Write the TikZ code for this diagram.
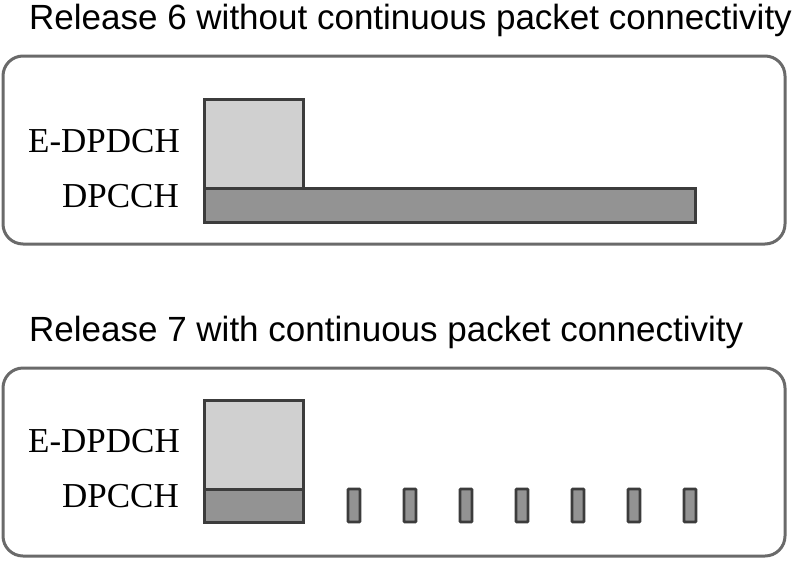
\documentclass[tikz,border=0pt]{standalone}
\usepackage{fontspec}
\setmainfont{Liberation Serif}
\newfontfamily\titlefont{Liberation Sans}
\definecolor{frame}{HTML}{6A6A6A}
\definecolor{edge}{HTML}{3C3C3C}
\definecolor{light}{HTML}{D0D0D0}
\definecolor{mid}{HTML}{939393}
\tikzset{
  panel/.style={draw=frame, line width=3pt, rounded corners=20pt},
  ebox/.style={draw=edge, fill=light, line width=3pt},
  cbox/.style={draw=edge, fill=mid, line width=3pt},
  pulse/.style={draw=edge, fill=mid, line width=2.6pt, rounded corners=0.8pt},
  title/.style={font=\titlefont\fontsize{35}{40}\selectfont, anchor=base west, inner sep=0pt},
  lab/.style={font=\fontsize{35}{40}\selectfont, anchor=base east, inner sep=0pt}
}
\begin{document}
\begin{tikzpicture}[x=1pt,y=-1pt]
\useasboundingbox (0,0) rectangle (800,560);
% top panel
\node[title] (t1) at (29,29) {Release 6 without continuous packet connectivity};
\draw[panel] (3,56) rectangle (785,244);
\draw[ebox] (204,99) rectangle (303,188);
\draw[cbox] (204,188) rectangle (695,222);
\node[lab] (e1) at (180,152) {E-DPDCH};
\node[lab] (d1) at (179,207) {DPCCH};
% bottom panel
\node[title] (t2) at (29,341) {Release 7 with continuous packet connectivity};
\draw[panel] (3,368) rectangle (785,556);
\draw[ebox] (204,400) rectangle (303,489);
\draw[cbox] (204,489) rectangle (303,522);
\node[lab] (e2) at (180,452) {E-DPDCH};
\node[lab] (d2) at (179,507) {DPCCH};
\foreach \i in {0,...,6} {
  \draw[pulse] (348+56*\i,489) rectangle (360+56*\i,522);
}
\end{tikzpicture}
\end{document}
